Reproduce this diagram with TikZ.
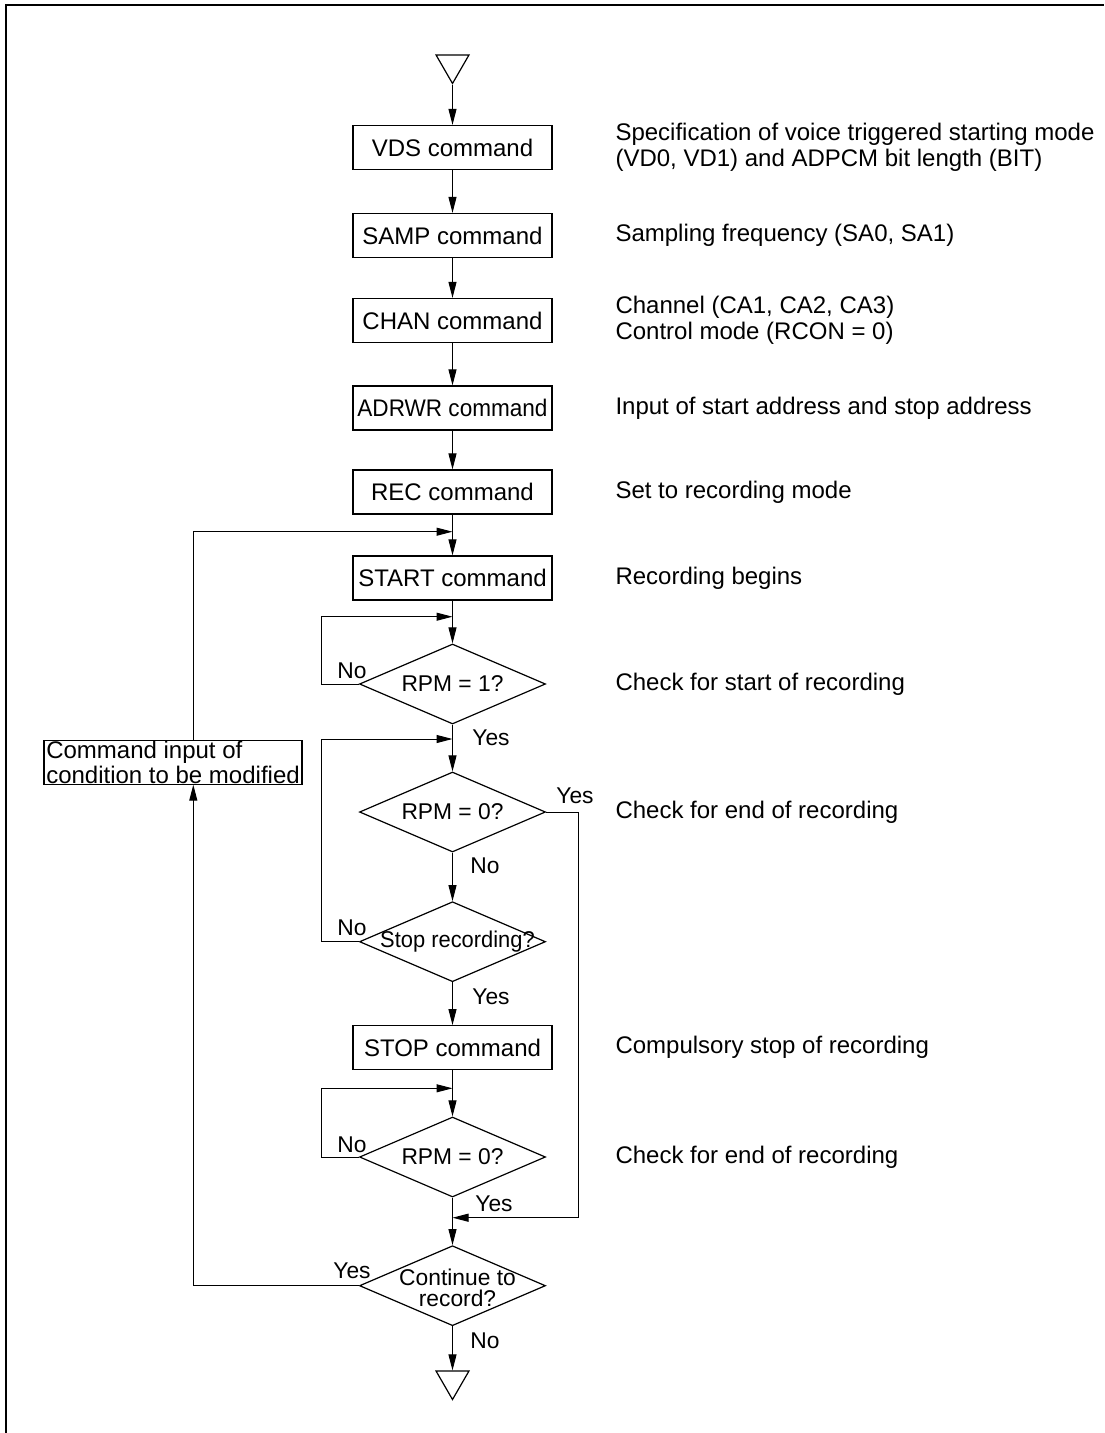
\documentclass[tikz,border=0pt]{standalone}
\usepackage{fontspec}
\setmainfont{Liberation Sans}
\usetikzlibrary{positioning,calc,shapes.geometric,arrows.meta}

\begin{document}
\begin{tikzpicture}[x=0.5pt, y=-0.5pt, font=\fontsize{12}{13}\selectfont, line width=0.5pt,
  >={Triangle[length=8pt,width=4pt]}]
\tikzset{
  cmdbox/.style={draw, line width=0.6pt, minimum width=99.5pt, minimum height=22pt, inner sep=0pt},
  decision/.style={diamond, draw, line width=0.6pt, minimum width=93pt, minimum height=40pt, inner sep=0pt},
  asktext/.style={font=\fontsize{11.4}{10.5}\selectfont, align=center, inner sep=0pt},
  terminal/.style={regular polygon, regular polygon sides=3, shape border rotate=180, draw, line width=0.6pt, minimum size=19pt, inner sep=0pt},
  note/.style={anchor=west, align=left, inner sep=0pt},
  answer/.style={inner sep=0pt, font=\fontsize{11.4}{12}\selectfont}
}
\useasboundingbox (0,0) rectangle (1104,1433);
\draw[line width=1pt] (6,1433) -- (6,5) -- (1104,5);
% main column
\coordinate (axis) at (452.5,0);
\coordinate (notex) at (615,0);
\node[terminal] (begin) at (452.5,64.5) {};
\node[cmdbox] (vds) at (452.5,147.5) {VDS command};
\node[cmdbox] (samp) at (452.5,235.5) {SAMP command};
\node[cmdbox] (chan) at (452.5,320.5) {CHAN command};
\node[cmdbox] (adrwr) at (452.5,408) {\scalebox{0.94}[1]{ADRWR command}};
\node[cmdbox] (rec) at (452.5,492) {REC command};
\node[cmdbox] (start) at (452.5,578) {START command};
\node[decision, label={[asktext]center:RPM = 1?}] (rpma) at (452.5,684) {};
\node[decision, label={[asktext]center:RPM = 0?}] (rpmb) at (452.5,812) {};
\node[decision, label={[asktext, xshift=2.5pt]center:\scalebox{0.96}[1]{Stop recording?}}] (stoprec) at (452.5,941.7) {};
\node[cmdbox] (stop) at (452.5,1047.7) {STOP command};
\node[decision, label={[asktext]center:RPM = 0?}] (rpmc) at (452.5,1157) {};
\node[decision, label={[asktext, xshift=2.5pt, yshift=-1pt]center:Continue to\\record?}] (cont) at (452.5,1285.7) {};
\node[terminal] (finish) at (452.5,1380.5) {};
\node[draw, line width=0.6pt, align=left, inner sep=0pt, minimum width=129pt, minimum height=21.7pt,
  font=\fontsize{12}{10.5}\selectfont] (modify) at (173,762.4) {Command input of\\condition to be modified};
% notes
\node[note] (vdsnote) at (vds -| notex) {Specification of voice triggered starting mode\\(VD0, VD1) and ADPCM bit length (BIT)};
\node[note] (sampnote) at (samp -| notex) {Sampling frequency (SA0, SA1)};
\node[note] (channote) at (chan -| notex) {Channel (CA1, CA2, CA3)\\Control mode (RCON = 0)};
\node[note] (adrwrnote) at (adrwr -| notex) {Input of start address and stop address};
\node[note] (recnote) at (rec -| notex) {Set to recording mode};
\node[note] (startnote) at (start -| notex) {Recording begins};
\node[note] (rpmanote) at (rpma -| notex) {Check for start of recording};
\node[note] (rpmbnote) at (rpmb -| notex) {Check for end of recording};
\node[note] (stopnote) at (stop -| notex) {Compulsory stop of recording};
\node[note] (rpmcnote) at (rpmc -| notex) {Check for end of recording};
% answers
\node[answer] (noa) at (352,671) {No};
\node[answer] (yesa) at (491,738) {Yes};
\node[answer] (yesb) at (575,796) {Yes};
\node[answer] (nob) at (485,866) {No};
\node[answer] (noc) at (352,928) {No};
\node[answer] (yesc) at (491,997) {Yes};
\node[answer] (nod) at (352,1145) {No};
\node[answer] (yesd) at (494,1204) {Yes};
\node[answer] (yese) at (352,1271) {Yes};
\node[answer] (noe) at (485,1341) {No};
% connectors
\draw[->] (begin.south) -- (vds.north -| axis);
\draw[->] (vds.south -| axis) -- (samp.north -| axis);
\draw[->] (samp.south -| axis) -- (chan.north -| axis);
\draw[->] (chan.south -| axis) -- (adrwr.north -| axis);
\draw[->] (adrwr.south -| axis) -- (rec.north -| axis);
\draw[->] (rec.south -| axis) -- (start.north -| axis);
\draw[->] (start.south -| axis) -- (rpma.north);
\draw[->] (rpma.south) -- (rpmb.north);
\draw[->] (rpmb.south) -- (stoprec.north);
\draw[->] (stoprec.south) -- (stop.north -| axis);
\draw[->] (stop.south -| axis) -- (rpmc.north);
\draw[->] (rpmc.south) -- (cont.north);
\draw[->] (cont.south) -- (finish.north);
% loops
\coordinate (loopx) at (321.7,0);
\coordinate (backx) at (193.3,0);
\coordinate (bypassx) at (578.3,0);
\coordinate (joina) at (452.5,531.7);
\coordinate (joinb) at (452.5,616.7);
\coordinate (joinc) at (452.5,739);
\coordinate (joind) at (452.5,1088.3);
\coordinate (joine) at (452.5,1217.7);
\draw[->] (rpma.west) -| (loopx |- joinb) -- (joinb);
\draw[->] (stoprec.west) -| (loopx |- joinc) -- (joinc);
\draw[->] (rpmc.west) -| (loopx |- joind) -- (joind);
\draw[->] (rpmb.east) -| (bypassx |- joine) -- (joine);
\draw[->] (cont.west) -| (modify.south -| backx);
\draw[->] (modify.north -| backx) |- (joina);
\end{tikzpicture}
\end{document}
